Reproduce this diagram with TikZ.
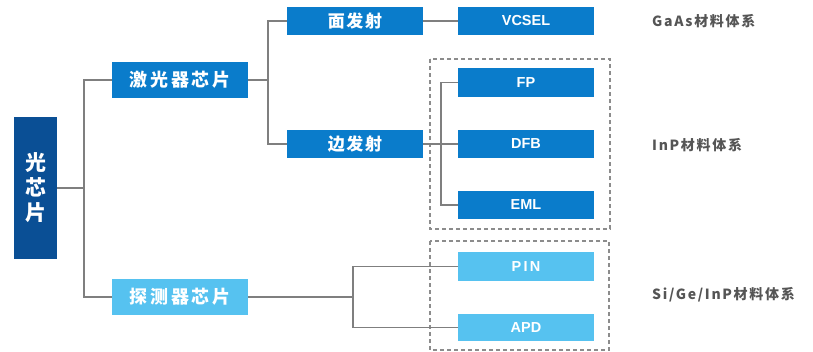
\documentclass[tikz,border=0pt]{standalone}
\usepackage{fontspec}
\setmainfont{Liberation Sans}
\newfontfamily\cjk{Noto Sans CJK SC}
\usetikzlibrary{backgrounds}
\definecolor{darkblue}{HTML}{0A4F95}
\definecolor{midblue}{HTML}{0A7CCB}
\definecolor{lightblue}{HTML}{56C2F0}
\definecolor{linegray}{HTML}{7F7F7F}
\definecolor{dashgray}{HTML}{8C8C8C}
\definecolor{labelgray}{HTML}{555555}
\tikzset{
  box/.style={inner sep=0pt, minimum width=136pt, text=white, font=\bfseries},
  midbox/.style={box, fill=midblue, minimum height=28pt},
  lightbox/.style={box, fill=lightblue, minimum height=28pt},
  conn/.style={draw=linegray, line width=1.1pt},
  groupbox/.style={draw=dashgray, dashed, line width=1.2pt, dash pattern=on 4pt off 3pt},
  matlabel/.style={anchor=west, inner sep=0pt, text=labelgray, font=\cjk\bfseries\fontsize{14}{16}\selectfont\addfontfeature{LetterSpace=12}},
}
\begin{document}
\begin{tikzpicture}[x=1pt,y=-1pt]
\useasboundingbox (0,0) rectangle (813,351);
% nodes
\node[box, fill=darkblue, minimum width=43pt, minimum height=142pt, align=center,
  font=\cjk\bfseries\fontsize{21}{25}\selectfont] (main) at (35.5,188) {光\\芯\\片};
\node[midbox, minimum height=36pt, font=\cjk\bfseries\fontsize{18}{20}\selectfont\addfontfeature{LetterSpace=15}] (laser) at (180,80) {激光器芯片};
\node[lightbox, minimum height=36pt, font=\cjk\bfseries\fontsize{18}{20}\selectfont\addfontfeature{LetterSpace=15}] (det) at (180,297) {探测器芯片};
\node[midbox, font=\cjk\bfseries\fontsize{17}{19}\selectfont\addfontfeature{LetterSpace=10}] (surf) at (355,21) {面发射};
\node[midbox, font=\cjk\bfseries\fontsize{17}{19}\selectfont\addfontfeature{LetterSpace=10}] (edge) at (355,144) {边发射};
\node[midbox, font=\bfseries\fontsize{14.5}{16}\selectfont] (vcsel) at (526,21) {VCSEL};
\node[midbox, minimum height=29pt, font=\bfseries\fontsize{14.5}{16}\selectfont] (fp) at (526,82.5) {FP};
\node[midbox, font=\bfseries\fontsize{14.5}{16}\selectfont] (dfb) at (526,144) {DFB};
\node[midbox, font=\bfseries\fontsize{14.5}{16}\selectfont] (eml) at (526,205) {EML};
\node[lightbox, minimum height=29pt, font=\bfseries\fontsize{14.5}{16}\selectfont\addfontfeature{LetterSpace=15}] (pin) at (526,266.5) {PIN};
\node[lightbox, minimum height=27pt, font=\bfseries\fontsize{14.5}{16}\selectfont] (apd) at (526,327.5) {APD};
% labels
\node[matlabel] (l1) at (652,21) {GaAs材料体系};
\node[matlabel] (l2) at (652,145) {InP材料体系};
\node[matlabel] (l3) at (652,295) {Si/Ge/InP材料体系};
% junctions
\coordinate (j1) at (84,188);
\coordinate (j2) at (268,80);
\coordinate (j3) at (441,144);
\coordinate (j4) at (353,297);
\begin{scope}[on background layer]
\fill[white] (0,0) rectangle (813,351);
\draw[groupbox] (430,59) rectangle (610,229);
\draw[groupbox] (430,241) rectangle (609,350);
\draw[conn] (main.east) -- (j1);
\draw[conn] (laser.west) -| (j1) |- (det.west);
\draw[conn] (laser.east) -- (j2);
\draw[conn] (surf.west) -| (j2) |- (edge.west);
\draw[conn] (surf.east) -- (vcsel.west);
\draw[conn] (edge.east) -- (dfb.west);
\draw[conn] (fp.west) -| (j3) |- (eml.west);
\draw[conn] (det.east) -- (j4);
\draw[conn] (pin.west) -| (j4) |- (apd.west);
\end{scope}
\end{tikzpicture}
\end{document}
